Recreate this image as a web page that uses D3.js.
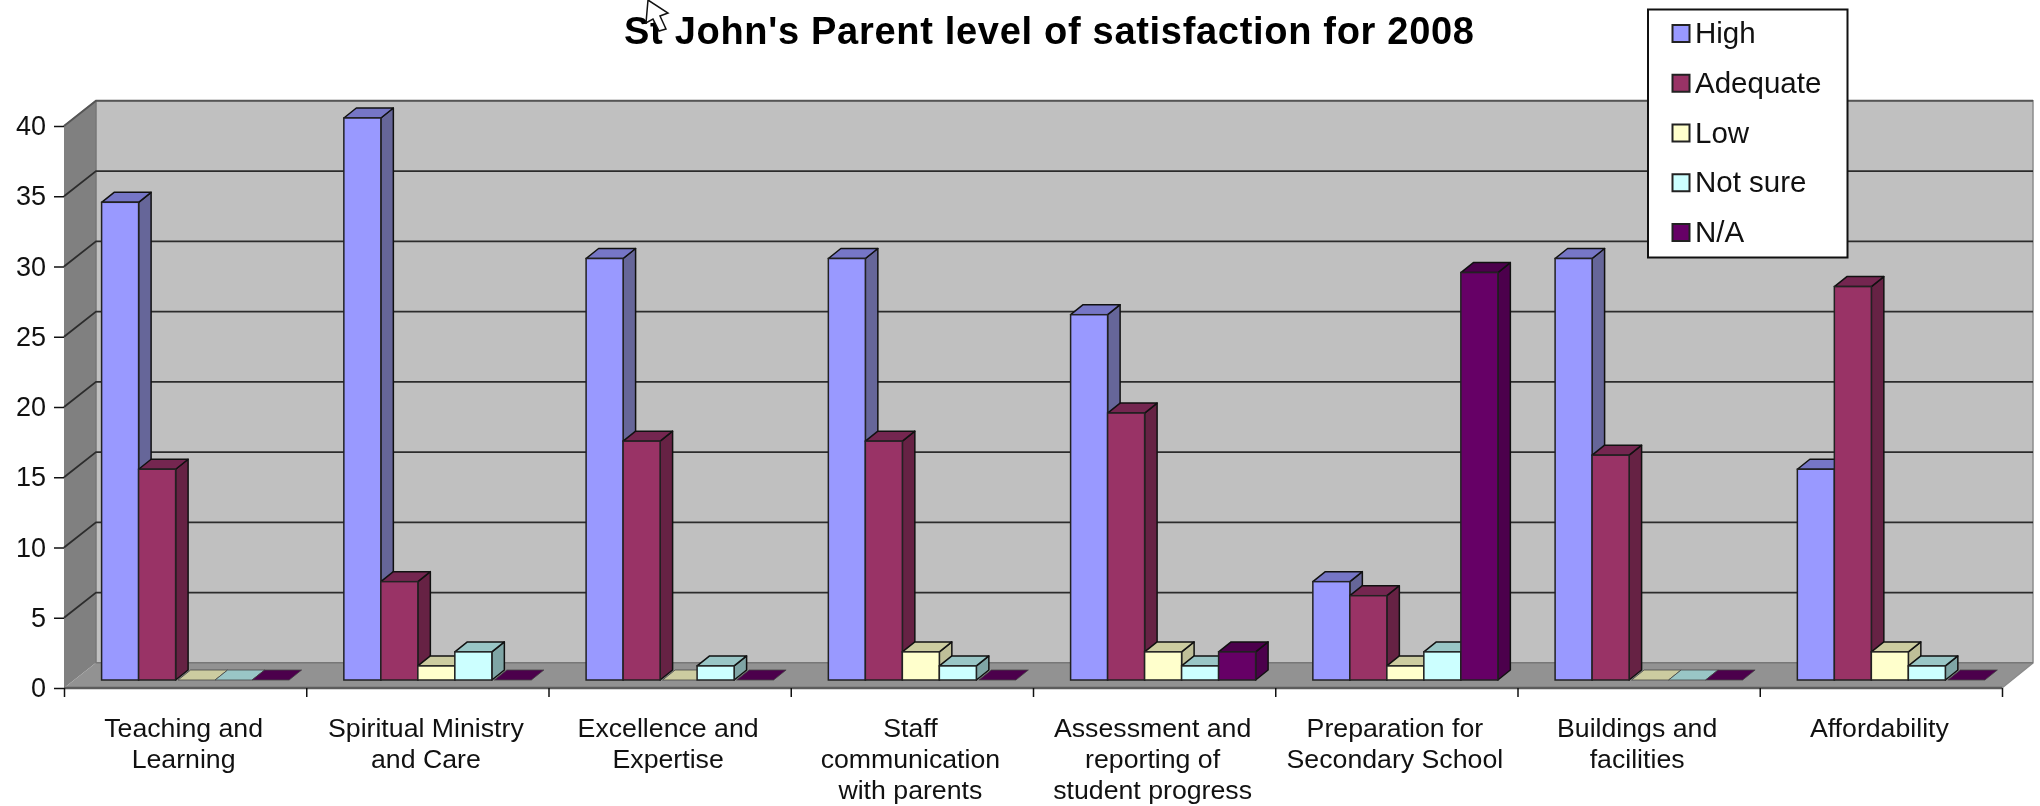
<!DOCTYPE html>
<html><head><meta charset="utf-8">
<script src="https://cdn.jsdelivr.net/npm/d3@7"></script>
<style>html,body{margin:0;padding:0;background:#fff;overflow:hidden}svg{display:block;filter:blur(0.45px)}
text{font-family:"Liberation Sans",Arial,sans-serif;fill:#111}</style></head><body>
<svg id="c" width="2040" height="806"></svg>
<script>
const title = "St John's Parent level of satisfaction for 2008";
const categories = [["Teaching and","Learning"],["Spiritual Ministry","and Care"],["Excellence and","Expertise"],["Staff","communication","with parents"],["Assessment and","reporting of","student progress"],["Preparation for","Secondary School"],["Buildings and","facilities"],["Affordability"]];
const seriesNames = ["High","Adequate","Low","Not sure","N/A"];
const high = [34,40,30,30,26,7,30,15];
const adequate = [15,7,17,17,19,6,16,28];
const low = [0,1,0,2,2,1,0,2];
const notSure = [0,2,1,1,1,2,0,1];
const na = [0,0,0,0,2,29,0,0];
const seriesValues = [high,adequate,low,notSure,na];
const front = ["#9999ff","#993366","#ffffcc","#ccffff","#660066"];
const tops = ["#7676c6","#742650","#cccca0","#99c6c6","#4c004c"];
const sides = ["#666699","#662244","#bfbf98","#7fa5a5","#4c004c"];
const yTicks = [0,5,10,15,20,25,30,35,40];

const svg = d3.select("#c");
const L=64,R=2002,Y0=688,Y40=126,DX=32,DY=25.2;
const y = d3.scaleLinear().domain([0,40]).range([Y0,Y40]);
const x0 = d3.scaleBand().domain(d3.range(categories.length)).range([L,R]);
const x1 = d3.scaleBand().domain(seriesNames).range([37.6,222.6]);
const poly=(g,p,f,s,w)=>g.append("polygon").attr("points",p.map(q=>q.join(",")).join(" ")).attr("fill",f).attr("stroke",s||"none").attr("stroke-width",w||0).attr("stroke-linejoin","round");

// walls
poly(svg,[[L+DX,Y40-DY],[R+DX-1,Y40-DY],[R+DX-1,Y0-DY],[L+DX,Y0-DY]],"#c0c0c0");
poly(svg,[[L,Y40],[L+DX,Y40-DY],[L+DX,Y0-DY],[L,Y0]],"#808080");
poly(svg,[[L,Y0],[L+DX,Y0-DY],[R+DX-1,Y0-DY],[R,Y0]],"#929292");
// wall edges
svg.append("path").attr("d",`M${L},${Y40}L${L+DX},${Y40-DY}H${R+DX-1}V${Y0-DY}L${R},${Y0}`).attr("fill","none").attr("stroke","#8c8c8c").attr("stroke-width",1.5);
svg.append("path").attr("d",`M${L+DX},${Y40-DY}V${Y0-DY}H${R+DX-1}`).attr("fill","none").attr("stroke","#777").attr("stroke-width",1.5);
svg.append("path").attr("d",`M${L},${Y0}H${R}`).attr("fill","none").attr("stroke","#5c5c5c").attr("stroke-width",2.5);
// grid
yTicks.slice(1).forEach(v=>{
  svg.append("path").attr("d",`M${L},${y(v)}L${L+DX},${y(v)-DY}H${R+DX-1}`).attr("fill","none").attr("stroke",v===40?"#555":"#2c2c2c").attr("stroke-width",v===40?2:1.8);
});
// bars
const BY=8,DBX=12.5,DBY=10;
categories.forEach((c,i)=>{
  seriesNames.forEach((s,j)=>{
    const v=seriesValues[j][i], g=svg.append("g");
    const xa=x0(i)+x1(s), w=x1.bandwidth(), yb=y(0)-BY, yt=y(v)-BY, xb=xa+w;
    if(v===0){
      const sh=2.5;
      poly(g,[[xa+sh,yb],[xa+sh+DBX,yb-DBY],[xb+sh+DBX,yb-DBY],[xb+sh,yb]],tops[j],"#444",0.8);
      return;
    }
    poly(g,[[xb,yt],[xb+DBX,yt-DBY],[xb+DBX,yb-DBY],[xb,yb]],sides[j],"#111",1.5);
    poly(g,[[xa,yt],[xa+DBX,yt-DBY],[xb+DBX,yt-DBY],[xb,yt]],tops[j],"#111",1.5);
    g.append("rect").attr("x",xa).attr("y",yt).attr("width",w).attr("height",yb-yt).attr("fill",front[j]).attr("stroke","#222").attr("stroke-width",1.5);
  });
});
// axes
const ax = svg.append("g").attr("transform",`translate(${L},0)`).call(d3.axisLeft(y).tickValues(yTicks).tickSize(10).tickPadding(8));
ax.select(".domain").remove();
ax.selectAll("line").attr("stroke","#111").attr("stroke-width",1.5);
ax.selectAll("text").style("font-size","27px").attr("fill","#111");
const xt = d3.scaleLinear().domain([0,categories.length]).range([L,R]);
const bx = svg.append("g").attr("transform",`translate(0,${Y0})`).call(d3.axisBottom(xt).tickValues(d3.range(categories.length+1)).tickSize(9).tickFormat(""));
bx.select(".domain").remove();
bx.selectAll("line").attr("stroke","#111").attr("stroke-width",1.5);
categories.forEach((c,i)=>{
  const t=svg.append("text").attr("text-anchor","middle").style("font-size","26.7px");
  c.forEach((l,k)=>t.append("tspan").attr("x",x0(i)+x0.bandwidth()/2-1.5).attr("y",737+k*31).text(l));
});
// title
svg.append("text").attr("x",1049).attr("y",44).attr("text-anchor","middle").attr("textLength",850).style("font-size","38px").style("font-weight","bold").style("fill","#000").text(title);
// legend
const lg=svg.append("g");
lg.append("rect").attr("x",1648).attr("y",9.5).attr("width",199.5).attr("height",248).attr("fill","#fff").attr("stroke","#111").attr("stroke-width",2);
const ly=d3.scalePoint().domain(seriesNames).range([33.5,232.5]);
seriesNames.forEach((s,j)=>{
  lg.append("rect").attr("x",1672.5).attr("y",ly(s)-8.5).attr("width",17).attr("height",17).attr("fill",front[j]).attr("stroke","#222").attr("stroke-width",2);
  lg.append("text").attr("x",1695).attr("y",ly(s)+9.5).style("font-size","29.5px").text(s);
});
// mouse pointer captured in the source screenshot
svg.append("path").attr("d","M648,0L668,13L660,16L666,29L659,31L653,19L646,23Z").attr("fill","#fff").attr("stroke","#111").attr("stroke-width",1.5);
</script></body></html>
